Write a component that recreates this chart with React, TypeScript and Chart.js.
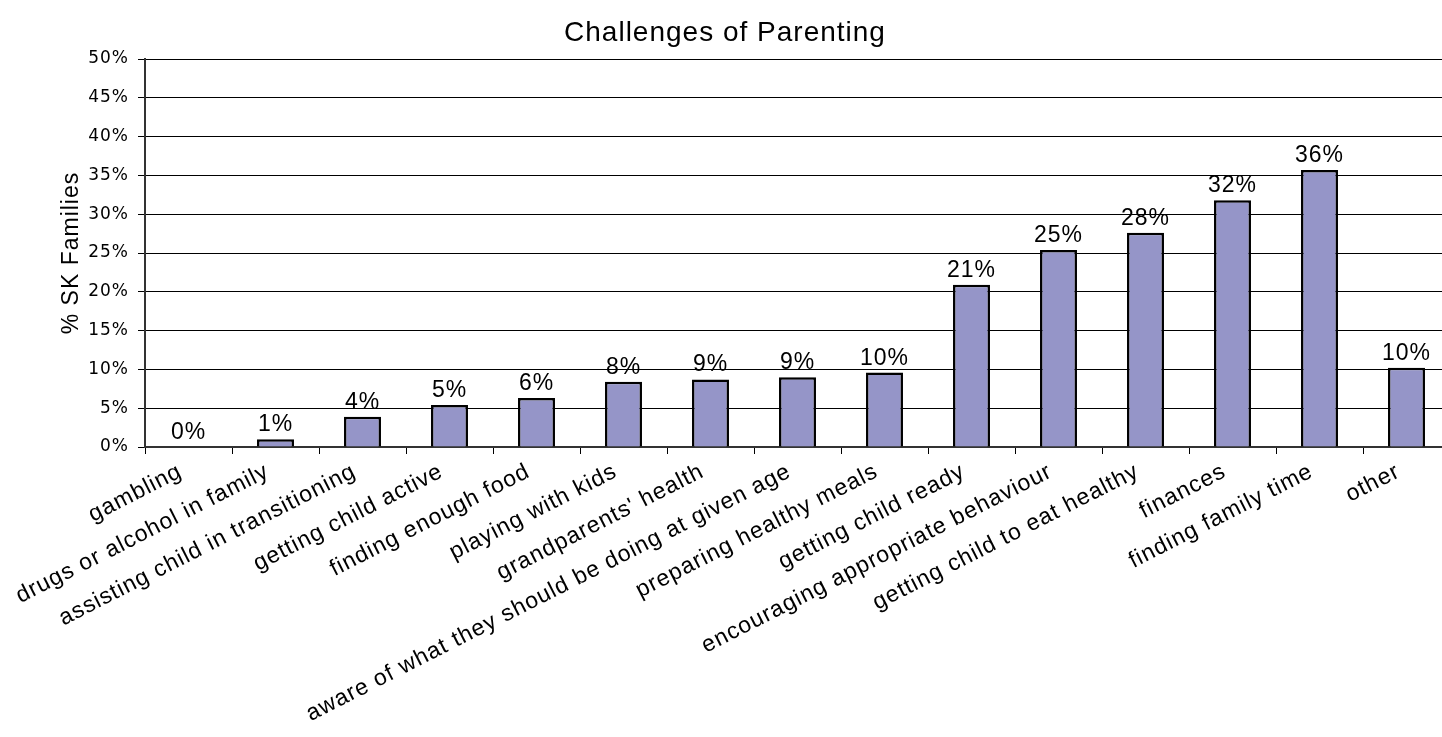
import React, { useEffect, useRef } from "react";
import { Chart, registerables } from "chart.js";

Chart.register(...registerables);

const categories = [
  "gambling",
  "drugs or alcohol in family",
  "assisting child in transitioning",
  "getting child active",
  "finding enough food",
  "playing with kids",
  "grandparents' health",
  "aware of what they should be doing at given age",
  "preparing healthy meals",
  "getting child ready",
  "encouraging appropriate behaviour",
  "getting child to eat healthy",
  "finances",
  "finding family time",
  "other",
];

const percentFamilies = [0, 1.0, 3.9, 5.4, 6.3, 8.4, 8.7, 9.0, 9.6, 20.9, 25.4, 27.6, 31.8, 35.7, 10.2];

const yTicks = [0, 5, 10, 15, 20, 25, 30, 35, 40, 45, 50];

const chartTitle = "Challenges of Parenting";
const yTitle = "% SK Families";

const SANS = "'Liberation Sans', Arial, sans-serif";
const SPACING = "1px";

const spacingPlugin = {
  id: "letterSpacing",
  afterInit(chart: any) {
    chart.ctx.letterSpacing = SPACING;
  },
  beforeUpdate(chart: any) {
    chart.ctx.letterSpacing = SPACING;
  },
  beforeDraw(chart: any) {
    chart.ctx.letterSpacing = SPACING;
  },
};

const valueLabelPlugin = {
  id: "valueLabels",
  afterDatasetsDraw(chart: any) {
    const ctx = chart.ctx;
    const meta = chart.getDatasetMeta(0);
    const data = chart.data.datasets[0].data as number[];
    ctx.save();
    ctx.font = `23px ${SANS}`;
    ctx.fillStyle = "#000";
    ctx.textAlign = "center";
    ctx.textBaseline = "alphabetic";
    meta.data.forEach((bar: any, i: number) => {
      ctx.fillText(`${Math.round(data[i])}%`, bar.x, bar.y - 8);
    });
    ctx.restore();
  },
};

export default function App() {
  const ref = useRef<HTMLCanvasElement>(null);

  useEffect(() => {
    if (!ref.current) return;
    const chart = new Chart(ref.current, {
      type: "bar",
      data: {
        labels: categories,
        datasets: [
          {
            data: percentFamilies,
            backgroundColor: "#9595C8",
            borderColor: "#000",
            borderWidth: 2.5,
            barPercentage: 0.425,
            categoryPercentage: 1,
          },
        ],
      },
      options: {
        responsive: false,
        animation: false,
        layout: { padding: { left: 0, right: 10, top: 0, bottom: 0 } },
        plugins: {
          legend: { display: false },
          tooltip: { enabled: false },
          title: {
            display: true,
            text: chartTitle,
            color: "#000",
            font: { family: SANS, size: 28, weight: "normal" },
            padding: { top: 16, bottom: 9.4 },
          },
        },
        scales: {
          x: {
            grid: {
              display: true,
              drawOnChartArea: false,
              drawTicks: true,
              tickLength: 7,
              color: "#000",
              offset: true,
            },
            border: { display: true, color: "#333", width: 2 },
            ticks: {
              autoSkip: false,
              maxRotation: 27,
              minRotation: 27,
              color: "#000",
              padding: 4,
              labelOffset: -8,
              font: { family: SANS, size: 23 },
            },
            afterFit(scale: any) {
              scale.height = 290;
            },
          },
          y: {
            min: 0,
            max: 50,
            afterBuildTicks(scale: any) {
              scale.ticks = yTicks.map((v) => ({ value: v }));
            },
            grid: {
              color: "#000",
              lineWidth: 1,
              tickLength: 7,
            },
            border: { display: true, color: "#333", width: 2 },
            ticks: {
              color: "#000",
              padding: 9,
              font: { family: "'DejaVu Sans', Verdana, sans-serif", size: 17 },
              callback: (v: any) => `${v}%`,
            },
            title: {
              display: true,
              text: yTitle,
              color: "#000",
              font: { family: SANS, size: 23 },
              padding: { top: 58, bottom: 0 },
            },
            afterFit(scale: any) {
              scale.width = 145;
            },
          },
        },
      },
      plugins: [spacingPlugin, valueLabelPlugin],
    });
    return () => chart.destroy();
  }, []);

  return (
    <div
      style={{
        position: "fixed",
        left: 0,
        top: 0,
        width: 1442,
        height: 737,
        overflow: "hidden",
        background: "#fff",
      }}
    >
      <canvas ref={ref} width={1460} height={737} style={{ display: "block" }} />
    </div>
  );
}
